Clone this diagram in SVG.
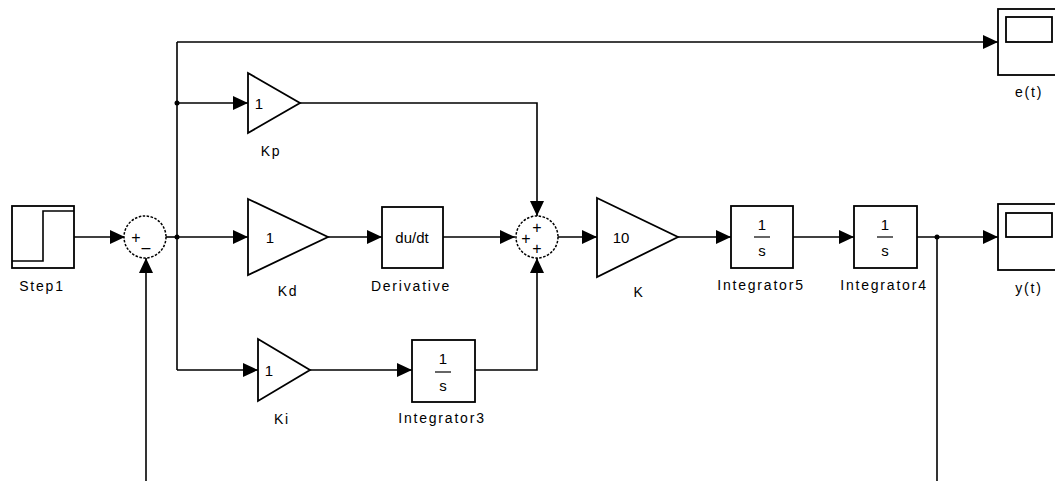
<svg xmlns="http://www.w3.org/2000/svg" width="1055" height="481" viewBox="0 0 1055 481">
<defs>
<marker id="arr" markerUnits="userSpaceOnUse" markerWidth="16" markerHeight="16" refX="15" refY="7" orient="auto">
<path d="M0,0 L15,7 L0,14 Z" fill="#000"/>
</marker>
<style>
.blk{fill:#fff;stroke:#000;stroke-width:1.8}
.sum{fill:#fff;stroke:#000;stroke-width:1.5;stroke-dasharray:2.5,1.5}
.w{fill:none;stroke:#000;stroke-width:1.6}
.wa{fill:none;stroke:#000;stroke-width:1.6;marker-end:url(#arr)}
.lbl{font-family:"Liberation Sans",Arial,sans-serif;font-size:14px;letter-spacing:1.8px;text-anchor:middle;fill:#000}
.in{font-family:"Liberation Sans",Arial,sans-serif;font-size:15px;text-anchor:middle;fill:#000}
.sg{font-family:"Liberation Sans",Arial,sans-serif;font-size:16px;text-anchor:middle;dominant-baseline:central;fill:#000}
</style>
</defs>
<rect width="1055" height="481" fill="#fff"/>
<g id="connectors">
<path class="wa" d="M74,237 H125"/>
<path class="w" d="M166,237 H177"/>
<path class="wa" d="M177,237 H248"/>
<path class="w" d="M177,42 V370"/>
<path class="wa" d="M177,42 H998"/>
<path class="wa" d="M177,103 H248"/>
<path class="wa" d="M177,370 H258"/>
<path class="wa" d="M300,103 H537 V216"/>
<path class="wa" d="M328,237 H382"/>
<path class="wa" d="M443,237 H515"/>
<path class="wa" d="M310,370 H412"/>
<path class="wa" d="M475,370 H537 V258"/>
<path class="wa" d="M558,237 H597"/>
<path class="wa" d="M678,237 H731"/>
<path class="wa" d="M793,237 H854"/>
<path class="wa" d="M917,237 H998"/>
<path class="w" d="M937,237 V481"/>
<path class="wa" d="M146,481 V258"/>
<circle cx="177" cy="103" r="2.5"/>
<circle cx="177" cy="237" r="2.5"/>
<circle cx="937" cy="237" r="2.5"/>
</g>
<g id="Step1">
<rect class="blk" x="12" y="206" width="62" height="62"/>
<polyline class="w" points="12,261 43,261 43,211 74,211"/>
<text class="lbl" x="42" y="291">Step1</text>
</g>
<g id="Sum1">
<circle class="sum" cx="145" cy="237" r="21"/>
<text class="sg" x="136" y="237">+</text>
<text class="sg" x="146" y="247">–</text>
</g>
<g id="Kp">
<polygon class="blk" points="248,73 300,103 248,133"/>
<text class="in" x="259" y="109">1</text>
<text class="lbl" x="271" y="156">Kp</text>
</g>
<g id="Kd">
<polygon class="blk" points="248,199 328,237 248,275"/>
<text class="in" x="270" y="243">1</text>
<text class="lbl" x="288" y="296">Kd</text>
</g>
<g id="Derivative">
<rect class="blk" x="382" y="207" width="61" height="61"/>
<text class="in" x="412" y="243">du/dt</text>
<text class="lbl" x="411" y="291">Derivative</text>
</g>
<g id="Ki">
<polygon class="blk" points="258,339 310,370 258,401"/>
<text class="in" x="269" y="376">1</text>
<text class="lbl" x="282" y="424">Ki</text>
</g>
<g id="Integrator3">
<rect class="blk" x="412" y="340" width="63" height="62"/>
<text class="in" x="443" y="364">1</text>
<line x1="435" y1="372" x2="451" y2="372" stroke="#000" stroke-width="1.2"/>
<text class="in" x="443" y="391">s</text>
<text class="lbl" x="442" y="423">Integrator3</text>
</g>
<g id="Sum2">
<circle class="sum" cx="537" cy="237" r="21"/>
<text class="sg" x="537" y="227">+</text>
<text class="sg" x="526" y="238">+</text>
<text class="sg" x="537" y="248">+</text>
</g>
<g id="K">
<polygon class="blk" points="597,198 678,237 597,277"/>
<text class="in" x="621" y="243">10</text>
<text class="lbl" x="639" y="297">K</text>
</g>
<g id="Integrator5">
<rect class="blk" x="731" y="206" width="62" height="62"/>
<text class="in" x="762" y="230">1</text>
<line x1="754" y1="237" x2="770" y2="237" stroke="#000" stroke-width="1.2"/>
<text class="in" x="762" y="256">s</text>
<text class="lbl" x="761" y="290">Integrator5</text>
</g>
<g id="Integrator4">
<rect class="blk" x="854" y="206" width="63" height="62"/>
<text class="in" x="885" y="230">1</text>
<line x1="877" y1="237" x2="893" y2="237" stroke="#000" stroke-width="1.2"/>
<text class="in" x="885" y="256">s</text>
<text class="lbl" x="884" y="290">Integrator4</text>
</g>
<g id="e_t">
<rect class="blk" x="998" y="9" width="70" height="66"/>
<rect class="blk" x="1006" y="17" width="46" height="25"/>
<text class="lbl" x="1029" y="97">e(t)</text>
</g>
<g id="y_t">
<rect class="blk" x="998" y="204" width="70" height="66"/>
<rect class="blk" x="1006" y="213" width="46" height="24"/>
<text class="lbl" x="1029" y="293">y(t)</text>
</g>
</svg>
